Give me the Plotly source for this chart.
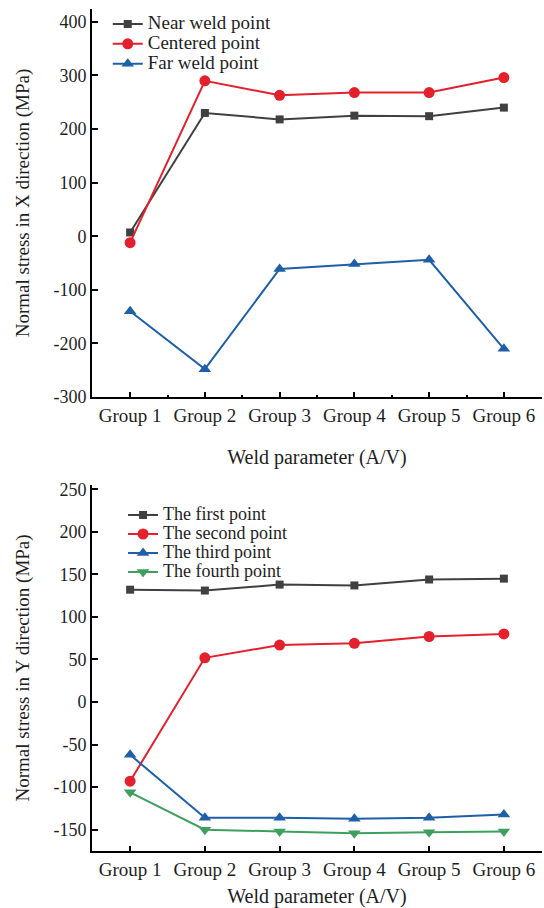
import plotly.graph_objects as go

# ---------------- data ----------------
groups = ["Group 1", "Group 2", "Group 3", "Group 4", "Group 5", "Group 6"]

near_weld = [7, 230, 218, 225, 224, 240]
centered = [-12, 290, 263, 268, 268, 296]
far_weld = [-140, -248, -61, -52, -44, -210]

first_pt = [132, 131, 138, 137, 144, 145]
second_pt = [-93, 52, 67, 69, 77, 80]
third_pt = [-62, -136, -136, -137, -136, -132]
fourth_pt = [-106, -150, -152, -154, -153, -152]

top_ticks = [400, 300, 200, 100, 0, -100, -200, -300]
top_tick_text = ["400", "300", "200", "100", "0", "-100", "-200", "-300"]
bot_ticks = [250, 200, 150, 100, 50, 0, -50, -100, -150]
bot_tick_text = ["250", "200", "150", "100", "50", "0", "-50", "-100", "-150"]

# ---------------- styles ----------------
FONT = "Liberation Serif"
TXT = "#1e1e1e"
BLACK = "#404040"
RED = "#e3202b"
BLUE = "#1f5fa8"
GREEN = "#3f9f5e"

xs = list(range(len(groups)))

fig = go.Figure()

def add(y, name, color, symbol, size, xa, ya, legend, fsize):
    fig.add_trace(go.Scatter(
        x=xs, y=y,
        name="<span style='font-size:%dpx'>%s</span>" % (fsize, name),
        mode="lines+markers",
        line=dict(color=color, width=2),
        marker=dict(color=color, symbol=symbol, size=size),
        xaxis=xa, yaxis=ya, legend=legend,
    ))

add(near_weld, "Near weld point", BLACK, "square", 8, "x", "y", "legend", 19)
add(centered, "Centered point", RED, "circle", 11, "x", "y", "legend", 19)
add(far_weld, "Far weld point", BLUE, "triangle-up", 11, "x", "y", "legend", 19)

add(first_pt, "The first point", BLACK, "square", 8, "x2", "y2", "legend2", 18)
add(second_pt, "The second point", RED, "circle", 11, "x2", "y2", "legend2", 18)
add(third_pt, "The third point", BLUE, "triangle-up", 11, "x2", "y2", "legend2", 18)
add(fourth_pt, "The fourth point", GREEN, "triangle-down", 11, "x2", "y2", "legend2", 18)

H = 908
L, R, T, B = 92, 2, 9, 57
ph = H - T - B

def py(px):
    return (H - B - px) / ph

def xaxis(anchor, minor, standoff):
    d = dict(
        range=[-0.51, 5.51], tickmode="array", tickvals=xs, ticktext=groups,
        showline=True, linecolor="black", linewidth=2, automargin=False,
        ticks="inside", ticklen=5, tickwidth=1.5, tickcolor="black",
        showgrid=False, zeroline=False, domain=[0, 1], anchor=anchor,
        ticklabeloverflow="allow",
        tickfont=dict(family=FONT, size=19, color=TXT),
        title=dict(text="Weld parameter (A/V)",
                   font=dict(family=FONT, size=20, color=TXT), standoff=standoff),
    )
    if minor:
        d["minor"] = dict(tickmode="array", tickvals=[0.5, 1.5, 2.5, 3.5, 4.5],
                          ticks="inside", ticklen=2, tickcolor="black")
    return d

yaxis_common = dict(
    showline=True, linecolor="black", linewidth=2, automargin=False,
    ticks="inside", ticklen=6, tickwidth=1.5, tickcolor="black",
    showgrid=False, zeroline=False, tickmode="array",
    tickfont=dict(family=FONT, size=18, color=TXT),
)

fig.update_layout(
    width=544, height=H,
    margin=dict(l=L, r=R, t=T, b=B, autoexpand=False),
    paper_bgcolor="white", plot_bgcolor="white",
    font=dict(family=FONT, color=TXT),
    xaxis=xaxis("y", True, 25),
    yaxis=dict(**yaxis_common, domain=[py(397), 1.0], anchor="x",
               range=[-300, 424], tickvals=top_ticks, ticktext=top_tick_text,
               title=dict(text="Normal stress in X direction (MPa)",
                          font=dict(family=FONT, size=19, color=TXT), standoff=19)),
    xaxis2=xaxis("y2", False, 15),
    yaxis2=dict(**yaxis_common, domain=[0, py(485)], anchor="x2",
                range=[-175, 255], tickvals=bot_ticks, ticktext=bot_tick_text,
                title=dict(text="Normal stress in Y direction (MPa)",
                           font=dict(family=FONT, size=19, color=TXT), standoff=19)),
    legend=dict(x=0.035, y=py(9), xanchor="left", yanchor="top",
                bgcolor="rgba(0,0,0,0)", font=dict(family=FONT, size=13, color=TXT),
                itemwidth=30, tracegroupgap=0),
    legend2=dict(x=0.069, y=py(500.5), xanchor="left", yanchor="top",
                 bgcolor="rgba(0,0,0,0)", font=dict(family=FONT, size=12, color=TXT),
                 itemwidth=30, tracegroupgap=0),
    showlegend=True,
)

fig.write_html("out.html", config={"displayModeBar": False},
               post_script="document.body.style.margin='0';document.body.style.padding='0';")
